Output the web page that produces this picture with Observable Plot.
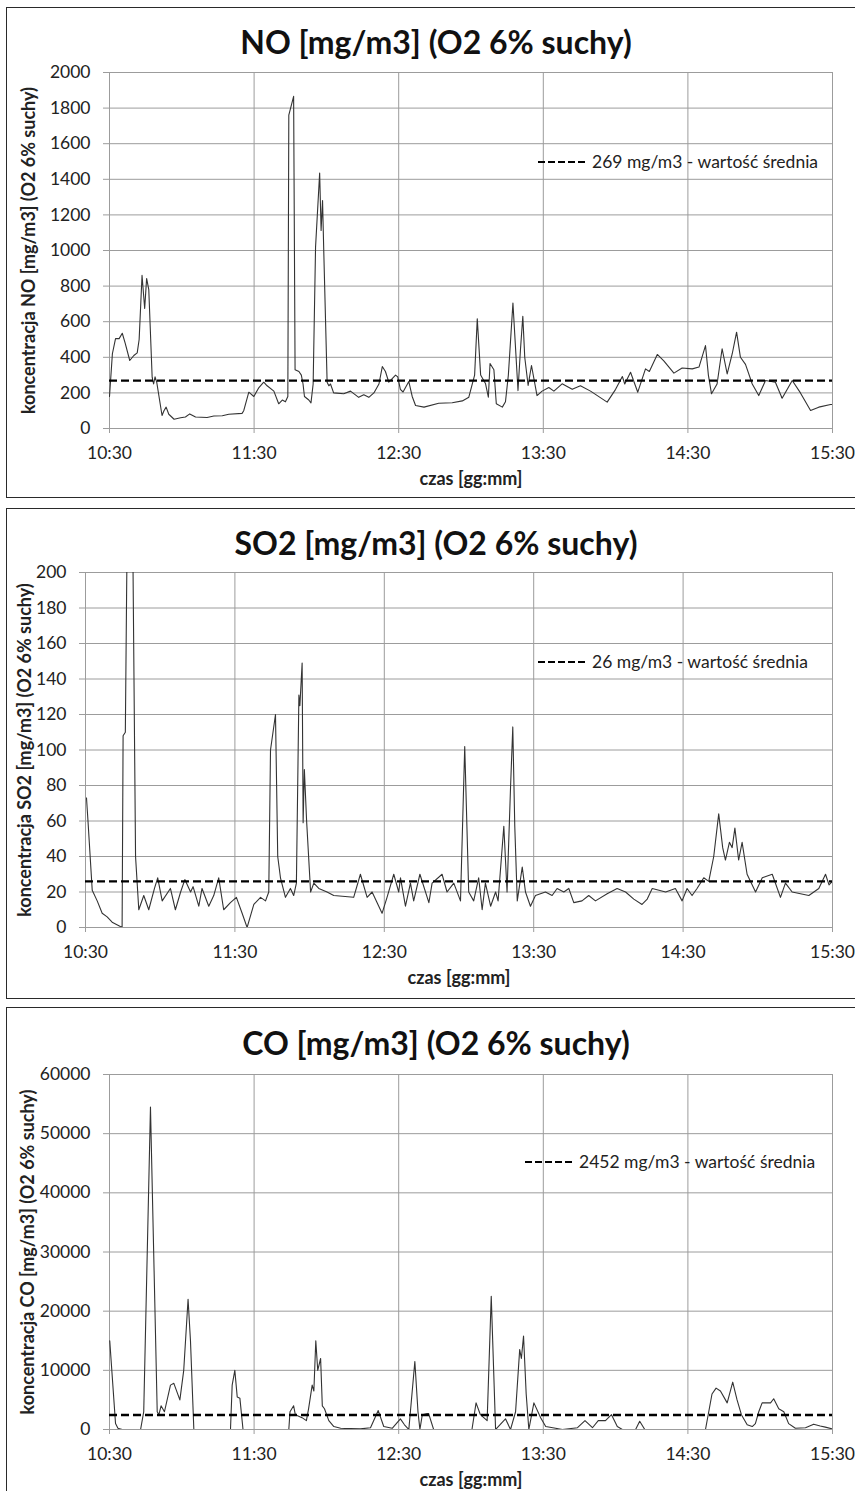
<!DOCTYPE html>
<html><head><meta charset="utf-8">
<script src="https://cdn.jsdelivr.net/npm/d3@7"></script>
<script src="https://cdn.jsdelivr.net/npm/@observablehq/plot@0.6"></script>
<style>
html,body{margin:0;padding:0;background:#fff;width:855px;height:1491px;overflow:hidden;font-family:Lato,"Open Sans",sans-serif;color:#111;}
.box{position:absolute;left:6px;width:880px;border:1.5px solid #2a2a2a;box-sizing:border-box;}
.title{position:absolute;left:0;width:872px;text-align:center;font-weight:bold;font-size:32px;line-height:40px;color:#111;white-space:nowrap;}
.plotwrap{position:absolute;left:6px;}
.legend{position:absolute;display:flex;align-items:center;font-size:17.5px;line-height:22px;color:#222;white-space:nowrap;}
.legend svg{margin-right:4px;}
[aria-label="y-axis label"], [aria-label="x-axis label"]{font-weight:bold;font-size:18px;}
</style></head><body>
<script>
// x ticks (minutes after 10:30) and their labels
const tickMinutes = [0, 60, 120, 180, 240, 300];
const tickLabels = ["10:30", "11:30", "12:30", "13:30", "14:30", "15:30"];

// NO series: minutes after 10:30, value
const noT = [0,1.2,2.5,4,5.3,6.5,8.4,10.1,11.5,12.3,13.5,14.6,15.4,16.3,17.7,18.3,18.9,19.6,21.8,22.6,23.5,24.6,26.8,29.5,31.5,33.3,35.7,40.5,43.3,46.8,49.5,55.0,55.7,57.8,59.9,62,64,65.4,68.2,70.2,71.7,73.0,74.0,74.4,76.4,77.0,78.6,79.6,80.3,80.9,82.7,83.6,84.5,85.5,87.2,87.8,88.4,88.9,90.3,91,91.7,93.0,97.2,100,103.4,105.5,107.6,109.7,111.8,113.2,114.5,115.9,118.7,119.6,120.7,121.8,124.2,125.6,127,130.5,136.6,142.2,146.4,149.1,151.5,152.6,154,156,157.2,157.9,159.5,160.5,163,164.3,165.5,167.4,169.5,170.5,171.5,172.3,173.7,175.1,177.4,179.5,182.3,184.4,187.8,192,195.4,199.6,206.5,210,212.8,213.8,216.2,219.2,222.4,224,227.3,230,234.2,237.6,241.8,244.6,247.3,248.5,249.8,252.1,254.2,256.3,258.4,260.2,261.8,263.9,266.7,269.4,272.2,276.3,279.1,283.3,286.7,290.9,294.3,299.2,300];
const noV = [180,420,505,505,535,480,382,410,425,500,860,674,843,780,288,250,290,260,73,100,120,80,52,60,65,82,65,62,70,72,80,85,100,204,180,230,260,240,210,139,160,150,180,1760,1866,330,320,300,250,180,160,144,250,1019,1435,1112,1281,1000,260,240,250,200,195,210,175,190,175,200,250,348,320,260,300,290,220,205,264,180,129,120,142,145,155,176,300,616,300,253,176,365,330,139,120,150,300,705,213,438,631,400,242,354,185,210,230,210,251,220,240,210,148,220,292,250,316,204,335,320,416,380,311,340,335,345,466,300,195,250,448,307,420,541,400,360,250,185,270,260,170,270,200,101,120,135,135];
const noMean = 269;

// SO2 series
const so2T = [0.4,1.0,2.7,4.7,6.7,8.7,10.7,13.4,14.7,15.1,16.0,16.5,17.0,18.8,19.1,20.1,21.4,23.4,25.4,27.7,29,30.8,34.1,36.1,38.2,39.9,42.2,43.2,45.5,46.8,49.5,51.5,53.5,55.5,58.2,60.6,62.9,64.9,67.6,70.3,72.3,73.6,74.3,76.3,77.2,78.3,80.3,82.3,83.6,84.7,85.7,86.1,87,87.4,87.9,88.8,90.4,91.7,93.7,97,99.7,107.7,110.4,113.1,115.1,119.1,121.1,123.8,125.8,126.5,128.5,130.5,131.8,134.3,137.9,139.2,143.2,145.2,147.9,150.6,152.3,153.9,155.9,157.9,159.3,160.6,162.7,164.7,165.7,168,169.3,170.7,171.6,172.4,173.4,175.4,176.7,178.7,180.7,184.7,187.4,189.4,192.1,194.1,196.1,199.4,202.1,204.8,209.5,213.5,216.9,220.2,223.5,225.6,227.6,233,236.9,239.6,241.6,243.6,245.6,248.3,250.3,252.3,254.3,255.9,257,258.6,259.7,260.8,262.3,263.7,265.7,269.1,271.8,275.8,279.1,281.1,283.8,290.5,294.5,297.2,298.6,299.9];
const so2V = [73,60,21,15,8,6,3,1,0,108,110,187,260,260,200,40,10,18,10,22,28,15,22,10,20,27,20,23,12,22,12,18,28,10,14,17,8,0,13,17,15,20,100,120,40,28,17,22,18,25,131,125,149,59,89,60,20,25,22,20,18,17,30,17,20,8,17,30,20,28,12,25,15,30,14,25,30,20,25,15,102,20,15,28,10,25,12,20,15,57,20,79,113,57,15,34,20,12,18,20,18,22,20,22,14,15,18,15,19,22,20,16,13,16,22,20,22,15,22,18,22,28,26,40,64,45,38,48,45,56,38,48,30,20,28,30,17,25,20,18,22,30,24,26];
const so2Mean = 26;

// CO series
const coT = [0.1,2.5,3.5,5.3,12.9,14.2,17,19.8,20.5,21.4,22.8,25.3,26.7,29.2,30.8,32.6,33.6,35,50.2,50.9,52,53,54.1,55.4,74.4,74.9,76.4,77.1,79.9,81.7,82.6,84.1,84.8,85.6,86.4,87.6,88.3,89.2,91,93.1,95.9,104.1,108.3,111.5,113.8,117.3,120.7,122.4,124.2,126.7,128,128.8,129.8,131.8,132.4,134.5,150.4,152.1,153.9,156.7,158.4,160.2,164.3,166.4,168.5,170.2,170.9,171.8,172.9,174,176.1,178.9,181,185.1,187.9,194.2,197.3,200.4,202.8,205.8,208.3,210.7,212.8,218.3,220,222.1,247.3,250,251.7,253.5,256.3,258.6,260.4,262.2,264.6,266.7,268,269.4,270.8,274.3,275.6,277.7,279.8,281.8,284.6,288.8,292.2,294.9,297,299.9];
const coV = [15000,1000,200,0,0,3000,54500,3000,2500,4000,3000,7500,7800,5000,10000,22000,15000,0,0,7500,10000,5500,5300,0,0,3000,4000,2500,2000,1500,3500,7500,6500,15000,10000,12000,4000,3500,1500,500,200,100,300,3200,500,200,1800,800,0,11500,3000,0,2500,2700,2700,0,0,4500,2500,1500,22500,0,1800,0,3000,13500,12000,15800,6000,0,4500,2000,500,200,0,300,1500,300,1500,1500,2500,500,0,0,1400,0,0,6000,7000,6500,4500,8000,5000,2500,800,500,1000,3000,4500,4500,5200,3500,3000,1000,200,300,900,600,400,100];
const coMean = 2452;

const panels = [
  {title:"NO [mg/m3] (O2 6% suchy)", ylabel:"koncentracja NO [mg/m3] (O2 6% suchy)", t:noT, v:noV, mean:noMean,
   yTicks:d3.range(0,2001,200), yMax:2000, legend:"269 mg/m3 - wartość średnia",
   boxTop:7, boxH:491, titleY:42, svgTop:62, h:435, ml:103, mt:10, mb:69, lo:87, legX:538, legY:162},
  {title:"SO2 [mg/m3] (O2 6% suchy)", ylabel:"koncentracja SO2 [mg/m3] (O2 6% suchy)", t:so2T, v:so2V, mean:so2Mean,
   yTicks:d3.range(0,201,20), yMax:200, legend:"26 mg/m3 - wartość średnia",
   boxTop:508, boxH:491, titleY:543, svgTop:563, h:435, ml:79, mt:9, mb:71, lo:67, legX:538, legY:662},
  {title:"CO [mg/m3] (O2 6% suchy)", ylabel:"koncentracja CO [mg/m3] (O2 6% suchy)", t:coT, v:coV, mean:coMean,
   yTicks:d3.range(0,60001,10000), yMax:60000, legend:"2452 mg/m3 - wartość średnia",
   boxTop:1007, boxH:490, titleY:1043, svgTop:1062, h:428, ml:103, mt:12, mb:61, lo:88, legX:525, legY:1162}
];

for (const p of panels) {
  const box = document.createElement("div");
  box.className = "box";
  box.style.top = p.boxTop + "px";
  box.style.height = p.boxH + "px";
  document.body.appendChild(box);

  const title = document.createElement("div");
  title.className = "title";
  title.style.top = (p.titleY - 20) + "px";
  title.textContent = p.title;
  document.body.appendChild(title);

  const data = p.t.map((t, i) => ({t, v: p.v[i]}));
  const grid = {stroke: "#9c9c9c", strokeOpacity: 1, strokeWidth: 1};
  const chart = Plot.plot({
    width: 849, height: p.h,
    marginLeft: p.ml, marginRight: 23, marginTop: p.mt, marginBottom: p.mb,
    style: {fontFamily: "Lato, 'Open Sans', sans-serif", fontSize: "17.5px", color: "#222", background: "transparent", overflow: "visible"},
    x: {domain: [0, 300]},
    y: {domain: [0, p.yMax]},
    marks: [
      Plot.gridY(p.yTicks, grid),
      Plot.gridX(tickMinutes, grid),
      Plot.axisY({ticks: p.yTicks, tickSize: 6, tickPadding: 13, stroke: "#9c9c9c", color: "#222",
        tickFormat: d => String(d), label: p.ylabel, labelAnchor: "center", labelArrow: "none", labelOffset: p.lo}),
      Plot.axisX({ticks: tickMinutes, tickSize: 5, tickPadding: 13, stroke: "#9c9c9c", color: "#222",
        tickFormat: d => tickLabels[tickMinutes.indexOf(d)], label: "czas [gg:mm]", labelAnchor: "center", labelArrow: "none", labelOffset: 56}),
      Plot.line(data, {x: "t", y: "v", stroke: "#333", strokeWidth: 1.1, clip: true}),
      Plot.ruleY([p.mean], {stroke: "#000", strokeWidth: 2.4, strokeDasharray: "8,4"})
    ]
  });
  const wrap = document.createElement("div");
  wrap.className = "plotwrap";
  wrap.style.top = p.svgTop + "px";
  wrap.appendChild(chart);
  document.body.appendChild(wrap);

  const leg = document.createElement("div");
  leg.className = "legend";
  leg.style.left = p.legX + "px";
  leg.style.top = (p.legY - 11) + "px";
  leg.innerHTML = '<svg width="50" height="4"><line x1="0" x2="50" y1="2" y2="2" stroke="#000" stroke-width="2" stroke-dasharray="7,3"></line></svg>';
  const span = document.createElement("span");
  span.textContent = p.legend;
  leg.appendChild(span);
  document.body.appendChild(leg);
}
</script>
</body></html>
